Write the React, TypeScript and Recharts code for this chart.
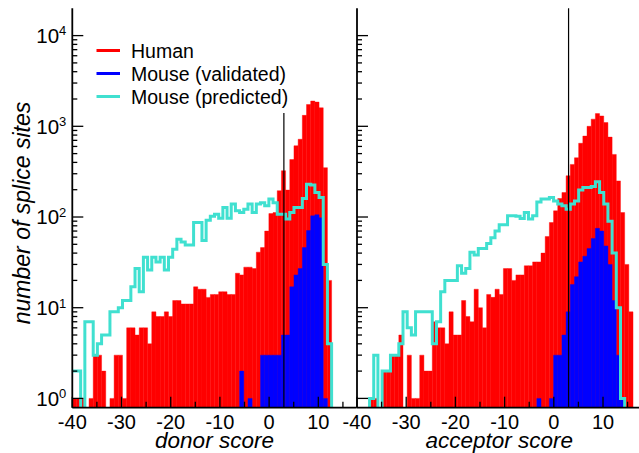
import React from "react";
import {
  Bar,
  ComposedChart,
  Line,
  ReferenceLine,
  XAxis,
  YAxis,
} from "recharts";

// histogram bins: width in score units, first bin starts at -40
const BIN = 0.85;
const X_START = -40;
const X_END = 17.8;
const Y_MIN = 0.79;
const Y_MAX = 20000;
const CUTOFF = 3;

const xTicks = [-40, -35, -30, -25, -20, -15, -10, -5, 0, 5, 10, 15];
const yTicks = [
  1, 2, 3, 4, 5, 6, 7, 8, 9, 10, 20, 30, 40, 50, 60, 70, 80, 90, 100, 200, 300,
  400, 500, 600, 700, 800, 900, 1000, 2000, 3000, 4000, 5000, 6000, 7000, 8000,
  9000, 10000,
];

// donor score counts per bin
const donorHuman = [
  1, 1, 1, 0, 1, 3, 3, 2, 0, 1, 3, 3, 1, 6, 6, 5, 6, 6, 4, 9, 8, 8, 9, 8, 12,
  12, 11, 11, 11, 17, 16, 16, 13, 14, 14, 15, 15, 14, 14, 24, 23, 28, 28, 27,
  41, 46, 70, 109, 112, 195, 324, 198, 430, 610, 720, 1320, 1740, 1900, 1850,
  1600, 350, 20, 0,
];
const donorValidated = [
  0, 0, 0, 0, 0, 0, 0, 0, 0, 0, 0, 0, 0, 0, 0, 0, 0, 0, 0, 0, 0, 0, 0, 0, 0, 0,
  0, 0, 0, 0, 0, 0, 0, 0, 0, 0, 0, 0, 0, 0, 2, 0, 1, 0, 0, 3, 3, 3, 3, 3, 5, 5,
  17, 23, 27, 46, 71, 103, 106, 98, 1, 0, 0,
];
const donorPredicted = [
  2, 2, 0, 7, 7, 3, 4, 5, 5, 9, 9, 10, 12, 12, 17, 27, 15, 36, 26, 36, 32, 36,
  26, 36, 44, 57, 53, 49, 49, 87, 87, 55, 92, 102, 107, 97, 127, 97, 139, 117,
  112, 122, 139, 112, 139, 144, 133, 158, 144, 107, 107, 95, 112, 127, 127,
  160, 230, 225, 186, 164, 30, 4, 0,
];

// acceptor score counts per bin
const acceptorHuman = [
  0, 0, 0, 1, 1, 0, 2, 2, 3, 3, 5, 0, 3, 1, 1, 3, 2, 2, 7, 6, 6, 4, 9, 5, 5,
  12, 8, 7, 16, 10, 6, 14, 13, 16, 14, 27, 27, 20, 23, 23, 29, 29, 32, 32, 40,
  61, 87, 117, 160, 186, 285, 380, 450, 650, 780, 1000, 1200, 1380, 1300,
  1100, 760, 490, 250, 112, 30, 9,
];
const acceptorValidated = [
  0, 0, 0, 0, 0, 0, 0, 0, 0, 0, 0, 0, 0, 0, 0, 0, 0, 0, 0, 0, 0, 0, 0, 0, 0, 0,
  0, 0, 0, 0, 0, 0, 0, 0, 0, 0, 0, 0, 0, 0, 0, 0, 0, 1, 0, 0, 1, 3, 3, 5, 9,
  18, 22, 32, 37, 45, 58, 75, 70, 48, 30, 12, 3, 1, 0, 0,
];
const acceptorPredicted = [
  0, 0, 0, 1, 3, 0, 2, 2, 3, 3, 4, 9, 6, 5, 9, 9, 9, 9, 4, 7, 15, 20, 20, 20,
  29, 24, 27, 41, 38, 45, 45, 51, 59, 70, 82, 82, 103, 103, 102, 96, 112, 95,
  103, 146, 158, 158, 164, 150, 139, 133, 122, 139, 150, 198, 211, 211, 217,
  245, 186, 139, 90, 40, 10, 1, 0, 0,
];

const seriesNames = ["Human", "Mouse (validated)", "Mouse (predicted)"];
const seriesColors = ["#ff0000", "#0000ff", "#40e0d0"];

const FONT = "'Liberation Sans', Arial, Helvetica, sans-serif";
const FLOOR = 0.3; // empty bins, drawn below the axis and clipped
const PLOT_W = 284.4;
const LEGEND_BOTTOM = 113; // legend box hides the cutoff line above this

function barRows(human: number[], validated: number[]) {
  return human.map((h, i) => ({
    x: X_START + (i + 0.5) * BIN,
    human: h > 0 ? h : null,
    validated: validated[i] > 0 ? validated[i] : null,
  }));
}

function stepRows(counts: number[]) {
  const rows = counts.map((c, i) => ({
    x: X_START + i * BIN,
    v: c > 0 ? c : FLOOR,
  }));
  rows.push({ x: X_START + counts.length * BIN, v: FLOOR });
  return rows;
}

const isDecade = (v: number) => {
  const e = Math.log10(v);
  return Math.abs(e - Math.round(e)) < 1e-6;
};

const bottomTick = (props: any) => {
  const { x, y, payload } = props;
  const major = payload.value % 10 === 0;
  return (
    <g>
      <line x1={x} x2={x} y1={y} y2={y - (major ? 11 : 6)} stroke="#000" strokeWidth={1.3} />
      {major && (
        <text x={x} y={y + 21.5} textAnchor="middle" fontSize={20} fontFamily={FONT} fill="#000">
          {payload.value}
        </text>
      )}
    </g>
  );
};

const topTick = (props: any) => {
  const { x, y, payload } = props;
  const major = payload.value % 10 === 0;
  return (
    <line x1={x} x2={x} y1={y} y2={y + (major ? 11 : 6)} stroke="#000" strokeWidth={1.3} />
  );
};

const makeLeftTick = (withLabels: boolean) => (props: any) => {
  const { x, y, payload } = props;
  const major = isDecade(payload.value);
  return (
    <g>
      <line x1={x} x2={x + (major ? 11 : 5)} y1={y} y2={y} stroke="#000" strokeWidth={1.3} />
      {withLabels && major && (
        <text x={x - 6} y={y + 7.3} textAnchor="end" fontSize={20.5} fontFamily={FONT} fill="#000">
          <tspan>10</tspan>
          <tspan dy={-7.5} fontSize={13}>
            {Math.round(Math.log10(payload.value))}
          </tspan>
        </text>
      )}
    </g>
  );
};

const rightTick = (props: any) => {
  const { x, y, payload } = props;
  const major = isDecade(payload.value);
  return <line x1={x} x2={x - (major ? 11 : 5)} y1={y} y2={y} stroke="#000" strokeWidth={1.3} />;
};

const makeCutoffShape = (hiddenAbove: number) => (props: any) => {
  const top = Math.min(props.y1, props.y2);
  const bottom = Math.max(props.y1, props.y2);
  return (
    <line
      x1={props.x1}
      x2={props.x2}
      y1={Math.max(top, hiddenAbove)}
      y2={bottom}
      stroke="#000"
      strokeWidth={1.2}
    />
  );
};

const axisLine = { stroke: "#000", strokeWidth: 1.8 };

function LegendLayer() {
  return (
    <g>
      {seriesNames.map((name, i) => {
        const cy = 50.5 + i * 23;
        return (
          <g key={name}>
            <line x1={96.5} x2={120} y1={cy} y2={cy} stroke={seriesColors[i]} strokeWidth={3} />
            <text x={131} y={cy + 7} fontSize={19.5} fontFamily={FONT} fill="#000">
              {name}
            </text>
          </g>
        );
      })}
    </g>
  );
}

type PanelProps = {
  human: number[];
  validated: number[];
  predicted: number[];
  title: string;
  yWidth: number;
  showYLabels: boolean;
  withLegend: boolean;
};

function Panel({ human, validated, predicted, title, yWidth, showYLabels, withLegend }: PanelProps) {
  const bars = barRows(human, validated);
  const steps = stepRows(predicted);
  const barPx = (BIN * PLOT_W) / (X_END - X_START) - 0.002;
  return (
    <ComposedChart
      width={yWidth + PLOT_W + 0.3}
      height={453}
      data={bars}
      margin={{ top: 8.3, right: 0.3, bottom: 0, left: 0 }}
      barGap={0}
      barCategoryGap={0}
    >
      <Bar
        xAxisId="main"
        dataKey="human"
        fill={seriesColors[0]}
        stroke={seriesColors[0]}
        strokeWidth={0.4}
        barSize={barPx}
        isAnimationActive={false}
      />
      <Bar
        xAxisId="blue"
        dataKey="validated"
        fill={seriesColors[1]}
        stroke={seriesColors[1]}
        strokeWidth={0.4}
        barSize={barPx}
        isAnimationActive={false}
      />
      <Line
        xAxisId="step"
        data={steps}
        dataKey="v"
        type="stepAfter"
        stroke={seriesColors[2]}
        strokeWidth={3}
        dot={false}
        activeDot={false}
        isAnimationActive={false}
      />
      <ReferenceLine
        xAxisId="main"
        x={CUTOFF}
        stroke="#000"
        shape={makeCutoffShape(withLegend ? LEGEND_BOTTOM : 0)}
      />
      {withLegend && <LegendLayer />}
      <XAxis
        xAxisId="main"
        dataKey="x"
        type="number"
        domain={[X_START, X_END]}
        allowDataOverflow
        ticks={xTicks}
        interval={0}
        height={45.3}
        tickSize={0}
        tickMargin={0}
        tickLine={false}
        axisLine={axisLine}
        tick={bottomTick}
        label={(p: any) => {
          const vb = p.viewBox;
          return (
            <text
              x={vb.x + vb.width / 2}
              y={vb.y + 40.5}
              textAnchor="middle"
              fontSize={22.5}
              fontStyle="italic"
              fontFamily={FONT}
              fill="#000"
            >
              {title}
            </text>
          );
        }}
      />
      <XAxis xAxisId="blue" dataKey="x" type="number" domain={[X_START, X_END]} allowDataOverflow height={0} hide />
      <XAxis xAxisId="step" dataKey="x" type="number" domain={[X_START, X_END]} allowDataOverflow height={0} hide />
      <XAxis
        xAxisId="top"
        orientation="top"
        type="number"
        domain={[X_START, X_END]}
        allowDataOverflow
        ticks={xTicks}
        interval={0}
        height={0}
        tickSize={0}
        tickMargin={0}
        tickLine={false}
        axisLine={axisLine}
        tick={topTick}
      />
      <YAxis
        scale="log"
        domain={[Y_MIN, Y_MAX]}
        allowDataOverflow
        ticks={yTicks}
        interval={0}
        width={yWidth}
        tickSize={0}
        tickMargin={0}
        tickLine={false}
        axisLine={axisLine}
        tick={makeLeftTick(showYLabels)}
        label={
          showYLabels
            ? (p: any) => {
                const vb = p.viewBox;
                const cx = vb.x + 22;
                const cy = vb.y + vb.height / 2 + 5;
                return (
                  <text
                    x={cx}
                    y={cy}
                    transform={`rotate(-90 ${cx} ${cy})`}
                    textAnchor="middle"
                    dominantBaseline="central"
                    fontSize={23}
                    fontStyle="italic"
                    fontFamily={FONT}
                    fill="#000"
                  >
                    number of splice sites
                  </text>
                );
              }
            : undefined
        }
      />
      <YAxis
        yAxisId="r"
        orientation="right"
        scale="log"
        domain={[Y_MIN, Y_MAX]}
        allowDataOverflow
        ticks={yTicks}
        interval={0}
        width={0}
        tickSize={0}
        tickMargin={0}
        tickLine={false}
        axisLine={axisLine}
        tick={rightTick}
      />
    </ComposedChart>
  );
}

export default function App() {
  return (
    <div
      style={{
        position: "absolute",
        left: 0,
        top: 0,
        width: 639,
        height: 453,
        overflow: "hidden",
        background: "#fff",
      }}
    >
      <div style={{ position: "absolute", left: 0, top: 0 }}>
        <Panel
          human={donorHuman}
          validated={donorValidated}
          predicted={donorPredicted}
          title="donor score"
          yWidth={72.3}
          showYLabels
          withLegend
        />
      </div>
      <div style={{ position: "absolute", left: 337.3, top: 0 }}>
        <Panel
          human={acceptorHuman}
          validated={acceptorValidated}
          predicted={acceptorPredicted}
          title="acceptor score"
          yWidth={20}
          showYLabels={false}
          withLegend={false}
        />
      </div>
    </div>
  );
}
